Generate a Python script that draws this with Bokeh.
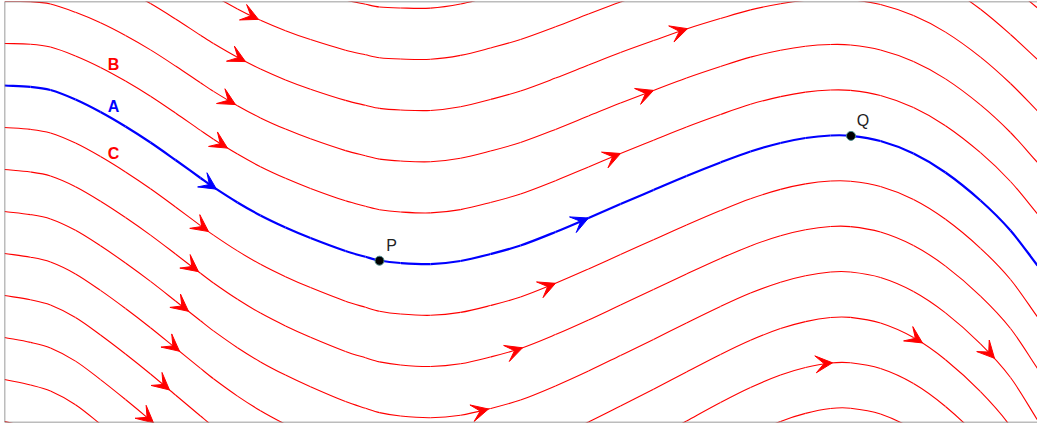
import numpy as np
from bokeh.plotting import figure
from bokeh.models import Span, Arrow, VeeHead, GlobalInlineStyleSheet
from bokeh.core.properties import value
from bokeh.embed import file_html
from bokeh.resources import INLINE

# streamline A (blue)
xs = [0, 26, 46, 71, 96, 121, 146, 171, 196, 209, 233, 256, 281, 306, 341, 361, 375, 396, 426, 456,
      486, 516, 551, 584, 616, 649, 682, 716, 746, 776, 801, 826, 846, 876, 909, 941, 976, 1006, 1033]
line_a = [337, 335.7, 332.5, 323, 310.5, 296, 280, 262.5, 244.5, 235.3, 220, 207, 195, 184.5, 171.5, 165.7,
          162.0, 159.5, 158.4, 161.5, 168.5, 177, 190.5, 204.5, 218.5, 232.5, 246.5, 260, 271, 279.5,
          284.5, 287, 286.7, 281.5, 269, 250, 222, 192, 157]
# spacing between neighbouring streamlines
spacing = [42, 42.6, 43, 43.6, 44.6, 45.5, 46.3, 47, 47.6, 47.9, 48.4, 48.8, 49.2, 49.6, 50.2, 50.5, 50.7, 51,
           51.2, 51.4, 51.5, 51.5, 51.3, 51, 50.5, 49.8, 49, 48, 47.2, 46.4, 45.9, 45.5, 45.4, 45.5, 46,
           46.8, 47.8, 49, 51.5]
line_index = list(range(-7, 9))   # 0 = A, -1 = B, 1 = C

# arrows: (streamline index, x of arrow tip)
arrow_line = [-4, -3, -2, -1, 0, 1, 2, 3, 4, 5, 6, -3, -2, -1, 0, 1, 2, 3, 5, 4, 3]
arrow_x = [254, 241, 231, 223, 212, 204, 194, 184, 175, 165, 149,
           683, 649, 616, 584, 551, 518, 484, 828, 918, 990]

# marked points
pt_name = ["P", "Q"]
pt_x = [375, 846.5]
pt_y = [161.8, 286.6]

X = np.array(xs, dtype=float)
ya = np.array(line_a, dtype=float)
gap = np.array(spacing, dtype=float)

RED = "#ff0000"
BLUE = "#0000ff"


def slopes(y):
    m = np.empty_like(y)
    m[1:-1] = (y[2:] - y[:-2]) / (X[2:] - X[:-2])
    m[0] = (y[1] - y[0]) / (X[1] - X[0])
    m[-1] = (y[-1] - y[-2]) / (X[-1] - X[-2])
    return m


def hermite(y, xt):
    m = slopes(y)
    i = int(np.clip(np.searchsorted(X, xt) - 1, 0, len(X) - 2))
    h = X[i + 1] - X[i]
    t = (xt - X[i]) / h
    h00 = 2 * t**3 - 3 * t**2 + 1
    h10 = t**3 - 2 * t**2 + t
    h01 = -2 * t**3 + 3 * t**2
    h11 = t**3 - t**2
    yv = h00 * y[i] + h10 * h * m[i] + h01 * y[i + 1] + h11 * h * m[i + 1]
    d = ((6 * t**2 - 6 * t) * y[i] + (3 * t**2 - 4 * t + 1) * h * m[i]
         + (-6 * t**2 + 6 * t) * y[i + 1] + (3 * t**2 - 2 * t) * h * m[i + 1]) / h
    return yv, d


p = figure(width=1037, height=425, output_backend="svg", toolbar_location=None,
           x_range=(0, 1033), y_range=(0, 421),
           min_border_left=4, min_border_right=0, min_border_top=1, min_border_bottom=3,
           background_fill_color="white", border_fill_color="white")
p.stylesheets = [GlobalInlineStyleSheet(css="html, body { margin: 0; padding: 0; overflow: hidden; }")]
p.xaxis.visible = False
p.yaxis.visible = False
p.grid.visible = False
p.outline_line_color = None


def curve(n):
    return ya - n * gap


def draw(y, color, width):
    m = slopes(y)
    h = X[1:] - X[:-1]
    p.bezier(x0=X[:-1], y0=y[:-1], x1=X[1:], y1=y[1:],
             cx0=X[:-1] + h / 3, cy0=y[:-1] + m[:-1] * h / 3,
             cx1=X[1:] - h / 3, cy1=y[1:] - m[1:] * h / 3,
             line_color=color, line_width=width)


for n in line_index:
    if n != 0:
        draw(curve(n), RED, 1.1)
draw(ya, BLUE, 2.2)

for n, xt in zip(arrow_line, arrow_x):
    yc = curve(n)
    y_tip, d = hermite(yc, xt)
    ux, uy = 1.0 / np.hypot(1.0, d), d / np.hypot(1.0, d)
    col = BLUE if n == 0 else RED
    p.add_layout(Arrow(end=VeeHead(size=17, fill_color=col, line_color=col, line_width=1),
                       x_start=xt - 6 * ux, y_start=y_tip - 6 * uy, x_end=xt, y_end=y_tip,
                       line_alpha=0, line_width=0))

# frame borders
for loc, dim in [(0, "height"), (0, "width"), (421, "width")]:
    p.add_layout(Span(location=loc, dimension=dim, line_color="#7a7a7a", line_width=1.5))

p.scatter(pt_x, pt_y, size=9, fill_color="black", line_color="#4a8a8a", line_width=1)
p.text(pt_x, pt_y, text=pt_name, x_offset=12, y_offset=-15, text_align="center", text_baseline="middle",
       text_font=value("Liberation Sans"), text_font_size="16px", text_color="#222222")

p.text([109], [358], text=["B"], text_align="center", text_baseline="middle", text_font_style="bold",
       text_font=value("Liberation Sans"), text_font_size="16px", text_color=RED)
p.text([109], [316], text=["A"], text_align="center", text_baseline="middle", text_font_style="bold",
       text_font=value("Liberation Sans"), text_font_size="16px", text_color=BLUE)
p.text([109], [269], text=["C"], text_align="center", text_baseline="middle", text_font_style="bold",
       text_font=value("Liberation Sans"), text_font_size="16px", text_color=RED)

open("out.html", "w").write(file_html(p, INLINE))
